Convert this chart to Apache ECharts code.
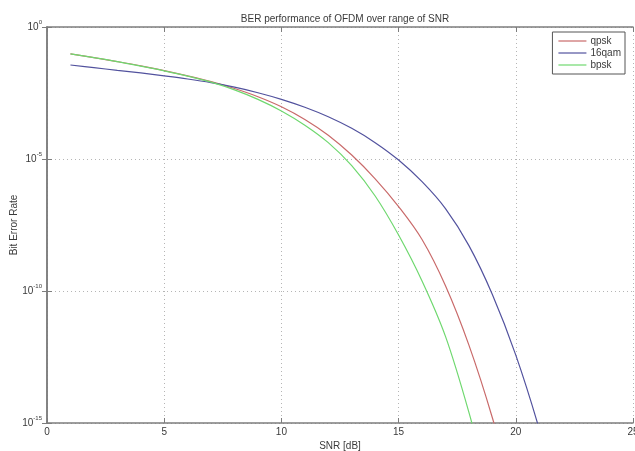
<!DOCTYPE html>
<html>
<head>
<meta charset="utf-8">
<script src="https://cdn.jsdelivr.net/npm/echarts@6/dist/echarts.min.js"></script>
<style>html,body{margin:0;padding:0;background:#fff;}#c{width:635px;height:451px;}</style>
</head>
<body>
<div id="c"></div>
<script>
var snr = [1,2,3,4,5,6,7,8,9,10,11,12,13,14,15,16,17,18,19,20,21,22];
var qpsk = [9.55e-2,6.92e-2,4.90e-2,3.39e-2,2.24e-2,1.41e-2,8.51e-3,4.68e-3,2.29e-3,9.55e-4,3.16e-4,7.94e-5,1.41e-5,1.78e-6,1.58e-7,8.91e-9,1.58e-10,8.91e-13,1.58e-15,8.91e-19];
var qam16 = [3.63e-2,2.88e-2,2.29e-2,1.82e-2,1.41e-2,1.07e-2,7.76e-3,5.25e-3,3.24e-3,1.82e-3,9.12e-4,3.98e-4,1.45e-4,4.17e-5,9.12e-6,1.38e-6,1.32e-7,5.25e-9,7.41e-11,3.72e-13,5.89e-16,3.16e-19];
var bpsk = [9.55e-2,6.92e-2,4.90e-2,3.31e-2,2.19e-2,1.38e-2,8.13e-3,4.17e-3,1.82e-3,6.61e-4,1.91e-4,4.17e-5,5.62e-6,3.98e-7,1.32e-8,2.40e-10,1.91e-12,2.51e-15,1.00e-18];
var xTicks = [0,5,10,15,20,25];
var yTickExps = [0,-5,-10,-15];

function pairs(ys){ return ys.map(function(v,i){ return [snr[i], v]; }); }

var axisColor = '#7d7d7d';
var textColor = '#3a3a3a';
var font = 'Liberation Sans, Arial';
var gridLine = {show:true, lineStyle:{color:'#b5b5b5', type:[1,3], width:1}};

var chart = echarts.init(document.getElementById('c'), null, {renderer:'canvas'});
chart.setOption({
  animation:false,
  backgroundColor:'#ffffff',
  title:{text:'BER performance of OFDM over range of SNR', left:340, top:9, textAlign:'center',
    textStyle:{fontFamily:font, fontSize:10, fontWeight:'normal', color:textColor}},
  legend:{orient:'vertical', right:10, top:32, itemWidth:28, itemHeight:1.2, itemGap:2, icon:'rect',
    backgroundColor:'#ffffff', borderColor:'#555', borderWidth:1, padding:[4,4,4,6],
    textStyle:{fontFamily:font, fontSize:10, color:textColor, padding:[0,0,0,-1]},
    data:['qpsk','16qam','bpsk']},
  grid:{left:47, right:2, top:27, bottom:28, containLabel:false, outerBoundsMode:'none'},
  xAxis:[{type:'value', min:0, max:25, interval:5,
    name:'SNR [dB]', nameLocation:'middle', nameGap:18, nameMoveOverlap:false,
    nameTextStyle:{fontFamily:font, fontSize:10, color:textColor},
    axisLine:{show:true, onZero:false, lineStyle:{color:axisColor, width:1.5}},
    axisTick:{show:true, inside:true, length:5, lineStyle:{color:axisColor}},
    axisLabel:{fontFamily:font, fontSize:10, color:textColor, margin:4, hideOverlap:false,
      formatter:function(v){ return xTicks.indexOf(v)>=0 ? String(v) : ''; }},
    splitLine:gridLine},
   {type:'value', position:'top', min:0, max:25, interval:5,
    axisLine:{show:true, lineStyle:{color:axisColor, width:1.5}},
    axisTick:{show:true, inside:true, length:5, lineStyle:{color:axisColor}},
    axisLabel:{show:false}, splitLine:{show:false}}],
  yAxis:[{type:'log', logBase:10, min:1e-15, max:1, interval:5,
    name:'Bit Error Rate', nameLocation:'middle', nameGap:28, nameRotate:90, nameMoveOverlap:false,
    nameTextStyle:{fontFamily:font, fontSize:10, color:textColor},
    axisLine:{show:true, onZero:false, lineStyle:{color:axisColor, width:1.5}},
    axisTick:{show:true, inside:true, length:5, lineStyle:{color:axisColor}},
    minorTick:{show:false},
    axisLabel:{margin:5, color:textColor,
      formatter:function(v){ var e = Math.round(Math.log(v)/Math.LN10); return '{b|10}{e|' + e + '}'; },
      rich:{b:{fontFamily:font, fontSize:10, color:textColor},
            e:{fontFamily:font, fontSize:6, color:textColor, padding:[0,0,9,0]}}},
    splitLine:gridLine},
   {type:'log', logBase:10, min:1e-15, max:1, interval:5, position:'right',
    axisLine:{show:true, lineStyle:{color:axisColor, width:1.5}},
    axisTick:{show:true, inside:true, length:5, lineStyle:{color:axisColor}},
    axisLabel:{show:false}, splitLine:{show:false}}],
  series:[
    {name:'qpsk', type:'line', symbol:'none', smooth:0.35, clip:true, data:pairs(qpsk),
     lineStyle:{color:'#c96a6a', width:1.2}, itemStyle:{color:'#c96a6a'}},
    {name:'16qam', type:'line', symbol:'none', smooth:0.35, clip:true, data:pairs(qam16),
     lineStyle:{color:'#52529e', width:1.2}, itemStyle:{color:'#52529e'}},
    {name:'bpsk', type:'line', symbol:'none', smooth:0.35, clip:true, data:pairs(bpsk),
     lineStyle:{color:'#6fd86f', width:1.2}, itemStyle:{color:'#6fd86f'}}
  ]
});
</script>
</body>
</html>
